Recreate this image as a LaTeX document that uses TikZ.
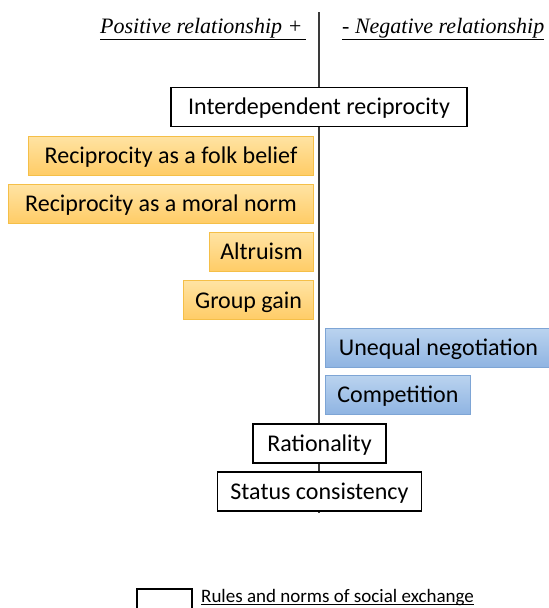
\documentclass[tikz,border=0pt]{standalone}
\usepackage{fontspec}
\setmainfont{Carlito}
\newfontfamily\headfont{Liberation Serif}
\usetikzlibrary{positioning}
\definecolor{orangetop}{HTML}{FFE3A3}
\definecolor{orangebot}{HTML}{FFCC66}
\definecolor{orangeline}{HTML}{F5BF48}
\definecolor{bluetop}{HTML}{BAD3EF}
\definecolor{bluebot}{HTML}{8FB4E2}
\definecolor{blueline}{HTML}{7EA5D5}
\definecolor{axisgray}{HTML}{3A3A3A}

\begin{document}
\begin{tikzpicture}[
        x=1pt, y=-1pt,
        rulebox/.style={rectangle, draw=black, fill=white, line width=1.1pt, minimum height=39pt, inner sep=0pt, text height=15.5pt, text depth=0pt, font=\fontsize{24}{28}\selectfont},
        posbox/.style={rulebox, draw=orangeline, line width=0.9pt, top color=orangetop, bottom color=orangebot},
        negbox/.style={rulebox, draw=blueline, line width=0.9pt, top color=bluetop, bottom color=bluebot},
        head/.style={inner sep=0pt, font=\headfont\itshape\fontsize{22}{26}\selectfont},
        axisline/.style={draw=axisgray, line width=1.3pt}
    ]
        \clip (0,0) rectangle (549,608);

        % Axis
        \coordinate (axtop) at (319,12);
        \coordinate (axbot) at (319,513);
        \draw[axisline] (axtop) -- (axbot);

        % Headings
        \node[head, anchor=base west] (poshead) at (100,33) {\underline{Positive relationship +\,}};
        \node[head, anchor=base west] (neghead) at (342,33) {\underline{- Negative relationship}};

        % Rules and norms
        \node[rulebox, minimum width=296pt] (inter) at (319,107) {Interdependent reciprocity};

        % Positive side
        \node[posbox, minimum width=285pt, anchor=east] (folk) at (314,155.5) {Reciprocity as a folk belief};
        \node[posbox, minimum width=305pt, below=8.5pt of folk.south east, anchor=north east] (moral) {Reciprocity as a moral norm};
        \node[posbox, minimum width=104pt, below=8.3pt of moral.south east, anchor=north east] (altruism) {Altruism};
        \node[posbox, minimum width=130pt, below=8.3pt of altruism.south east, anchor=north east] (group) {Group gain};

        % Negative side
        \node[negbox, minimum width=226pt, below right=7.6pt and 11pt of group.south east, anchor=north west] (unequal) {Unequal negotiation};
        \node[negbox, minimum width=145pt, below=7.2pt of unequal.south west, anchor=north west] (competition) {Competition};

        % On the axis
        \node[rulebox, minimum width=133pt] (rational) at (319.5,443.5) {Rationality};
        \node[rulebox, minimum width=204pt, below=7.9pt of rational] (status) {Status consistency};

        % Legend
        \node[rulebox, minimum width=55pt] (legbox) at (164.5,608.5) {};
        \node[inner sep=0pt, anchor=base west, font=\fontsize{19}{23}\selectfont] (legtext) at (201,602.5) {Rules and norms of social exchange};
        \draw[line width=0.9pt] ([yshift=-2.2pt]legtext.base west) -- ([yshift=-2.2pt]legtext.base east);
    \end{tikzpicture}
\end{document}
